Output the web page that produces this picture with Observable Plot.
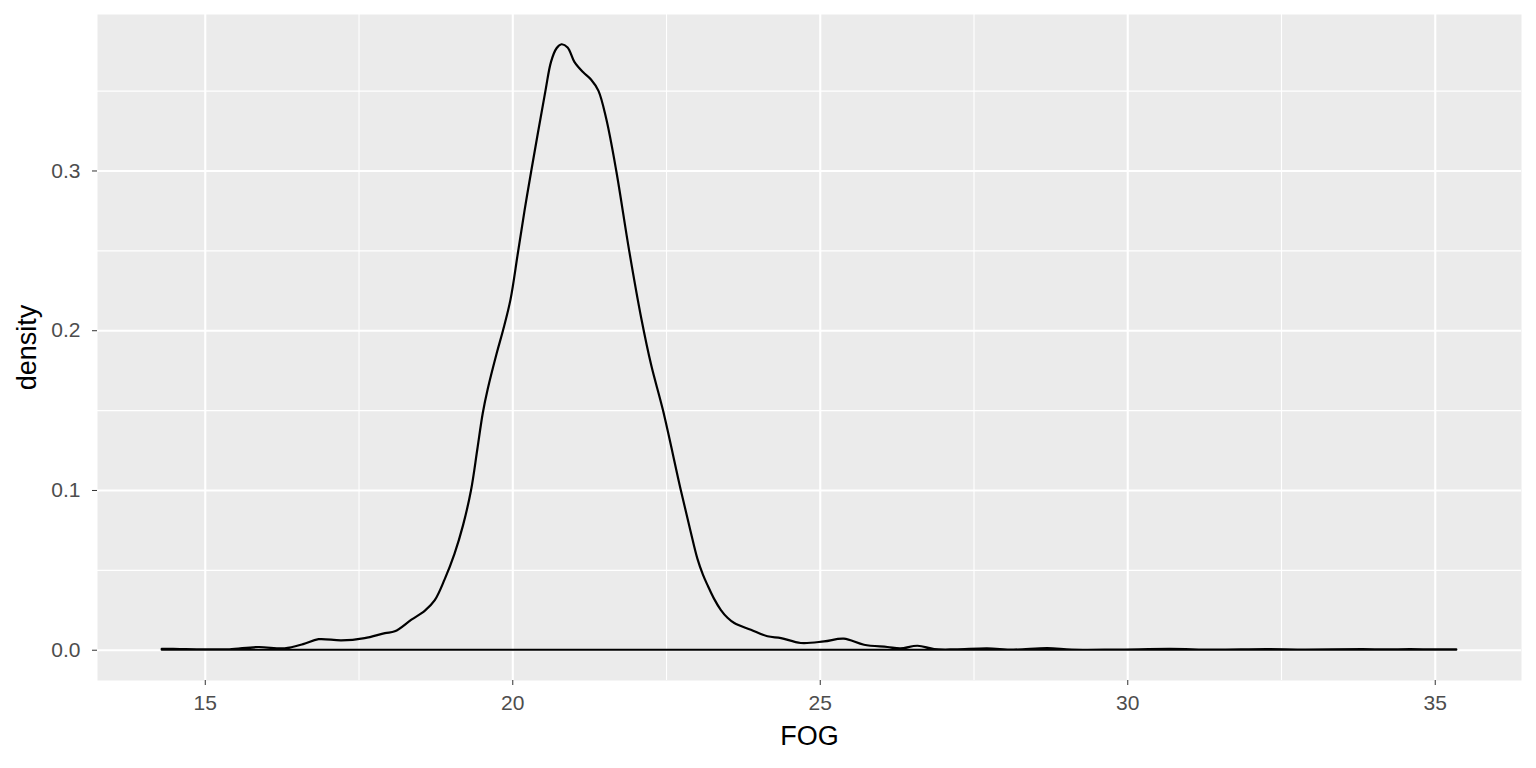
<!DOCTYPE html>
<html>
<head>
<meta charset="utf-8">
<script src="https://cdn.jsdelivr.net/npm/d3@7"></script>
<script src="https://cdn.jsdelivr.net/npm/@observablehq/plot@0.6"></script>
<style>
  html, body { margin: 0; padding: 0; background: #ffffff; }
  #chart { width: 1536px; height: 768px; }
</style>
</head>
<body>
<div id="chart"></div>
<script>
// FOG values (x) and estimated kernel density (y)
const fog = [14.30, 14.6, 15.0, 15.4, 15.87, 16.3, 16.6, 16.85, 17.22, 17.6, 17.93, 18.09, 18.36, 18.58, 18.74, 18.9, 19.06, 19.2, 19.33, 19.43, 19.52, 19.6, 19.75, 19.85, 19.97, 20.09, 20.2, 20.31, 20.54, 20.63, 20.72, 20.80, 20.90, 21.01, 21.15, 21.28, 21.40, 21.53, 21.69, 21.90, 22.1, 22.26, 22.45, 22.74, 22.9, 23.01, 23.1, 23.18, 23.28, 23.39, 23.5, 23.61, 23.88, 24.15, 24.37, 24.69, 25.07, 25.39, 25.72, 26.10, 26.31, 26.59, 26.86, 27.2, 27.72, 28.15, 28.70, 29.1, 29.8, 30.7, 31.4, 32.27, 32.9, 33.83, 34.2, 34.6, 35.0, 35.35];
const density = [0.0006, 0.0004, 0.0002, 0.0003, 0.0017, 0.0009, 0.0035, 0.0066, 0.0058, 0.0073, 0.0104, 0.0115, 0.0188, 0.0245, 0.031, 0.044, 0.060, 0.078, 0.100, 0.125, 0.148, 0.163, 0.186, 0.200, 0.219, 0.248, 0.275, 0.300, 0.350, 0.368, 0.3765, 0.379, 0.377, 0.368, 0.3616, 0.357, 0.350, 0.332, 0.300, 0.250, 0.207, 0.178, 0.150, 0.100, 0.074, 0.057, 0.047, 0.040, 0.032, 0.025, 0.020, 0.0167, 0.0125, 0.0084, 0.0073, 0.0042, 0.0052, 0.0069, 0.0031, 0.0017, 0.0008, 0.0025, 0.0004, 0.0002, 0.0008, 0.0001, 0.0010, 0.0001, 0.0001, 0.0005, 0.0001, 0.0004, 0.0001, 0.0004, 0.0002, 0.0004, 0.0002, 0.0003];

const xTicks = [15, 20, 25, 30, 35];
const xMinor = [17.5, 22.5, 27.5, 32.5];
const yTicks = [0.0, 0.1, 0.2, 0.3];
const yMinor = [0.05, 0.15, 0.25, 0.35];
const xTitle = "FOG";
const yTitle = "density";

const data = fog.map((x, i) => ({x, y: density[i]}));

const font = "'Liberation Sans', Arial, Helvetica, sans-serif";

const chart = Plot.plot({
  width: 1536,
  height: 768,
  marginLeft: 97,
  marginRight: 15,
  marginTop: 14,
  marginBottom: 88,
  style: {fontFamily: font, background: "#ffffff"},
  x: {domain: [13.2475, 36.4025]},
  y: {domain: [-0.01895, 0.39795]},
  marks: [
    Plot.frame({fill: "#EBEBEB", stroke: null}),
    Plot.ruleX(xMinor, {stroke: "#ffffff", strokeWidth: 1.1}),
    Plot.ruleY(yMinor, {stroke: "#ffffff", strokeWidth: 1.1}),
    Plot.ruleX(xTicks, {stroke: "#ffffff", strokeWidth: 2.1}),
    Plot.ruleY(yTicks, {stroke: "#ffffff", strokeWidth: 2.1}),
    Plot.areaY(data, {x: "x", y: "y", fill: "none", stroke: "#000000", strokeWidth: 2.2, curve: "catmull-rom"}),
    Plot.axisX(xTicks, {tickSize: 5, tickPadding: 10, fontSize: 21, color: "#4D4D4D", stroke: "#333333", label: null, tickFormat: d => String(d)}),
    Plot.axisY(yTicks, {tickSize: 5, tickPadding: 12, fontSize: 21, color: "#4D4D4D", stroke: "#333333", label: null, tickFormat: d3.format(".1f")}),
    Plot.text([xTitle], {frameAnchor: "bottom", dy: 56, text: d => d, fontSize: 27, fill: "#000000", textAnchor: "middle", lineAnchor: "middle"}),
    Plot.text([yTitle], {frameAnchor: "left", dx: -70, text: d => d, fontSize: 27, fill: "#000000", rotate: -90, textAnchor: "middle", lineAnchor: "middle"})
  ]
});
document.getElementById("chart").appendChild(chart);
</script>
</body>
</html>
